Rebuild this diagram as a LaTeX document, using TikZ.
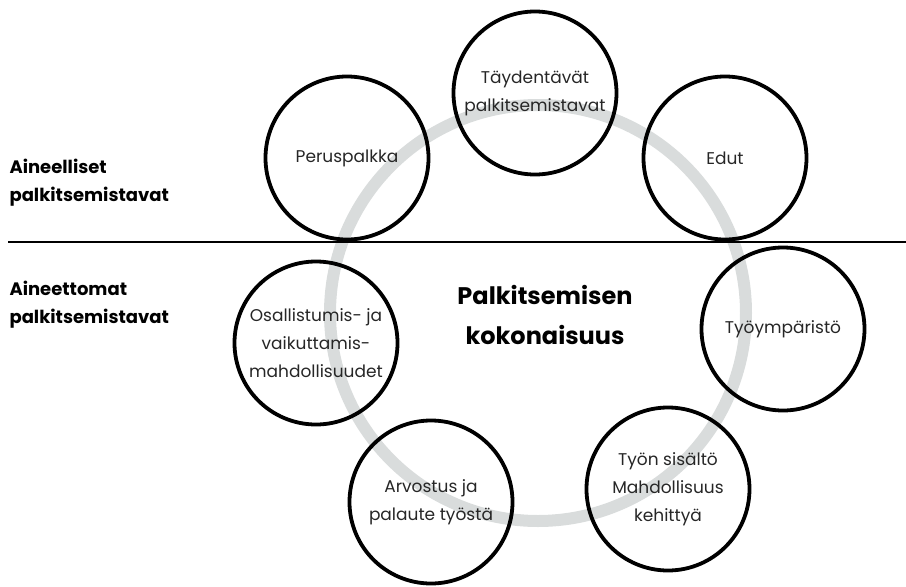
\documentclass[tikz,border=0pt]{standalone}
\usepackage{fontspec}
\setmainfont{Poppins}
\definecolor{ringgray}{HTML}{D9DCDC}
\definecolor{inkgray}{HTML}{262626}
\tikzset{
  reward/.style={circle, draw=black, line width=3.8pt, minimum size=163pt,
    inner sep=0pt, align=center, text=inkgray, font=\fontsize{17}{28}\selectfont},
  sidelabel/.style={anchor=west, align=left, text=black, font=\fontsize{18}{28}\bfseries\selectfont},
}
\begin{document}
\begin{tikzpicture}[x=1pt, y=-1pt]
    \useasboundingbox (0,0) rectangle (906,587);
    % ring behind the circles
    \draw[ringgray, line width=12pt] (538,313) circle (208);
    % divider between the two groups
    \coordinate (divL) at (8,242);
    \coordinate (divR) at (906,242);
    \draw[line width=2.2pt] (divL) -- (divR);
    % reward circles
    \node[reward] (base) at (347,158) {Peruspalkka};
    \node[reward] (extra) at (535,93) {Täydentävät\\palkitsemistavat};
    \node[reward] (perks) at (725,158) {Edut};
    \node[reward] (env) at (783,329) {Työympäristö};
    \node[reward] (work) at (668,489) {Työn sisältö\\Mahdollisuus\\kehittyä};
    \node[reward] (feedback) at (431,502) {Arvostus ja\\palaute työstä};
    \node[reward] (voice) at (316,343) {Osallistumis- ja\\vaikuttamis-\\mahdollisuudet};
    % centre title
    \node[align=center, font=\fontsize{24}{40}\bfseries\selectfont] (title) at (545,315)
        {Palkitsemisen\\kokonaisuus};
    % group labels
    \node[sidelabel] (material) at (6,183) {Aineelliset\\palkitsemistavat};
    \node[sidelabel] (immaterial) at (6,305) {Aineettomat\\palkitsemistavat};
\end{tikzpicture}
\end{document}
